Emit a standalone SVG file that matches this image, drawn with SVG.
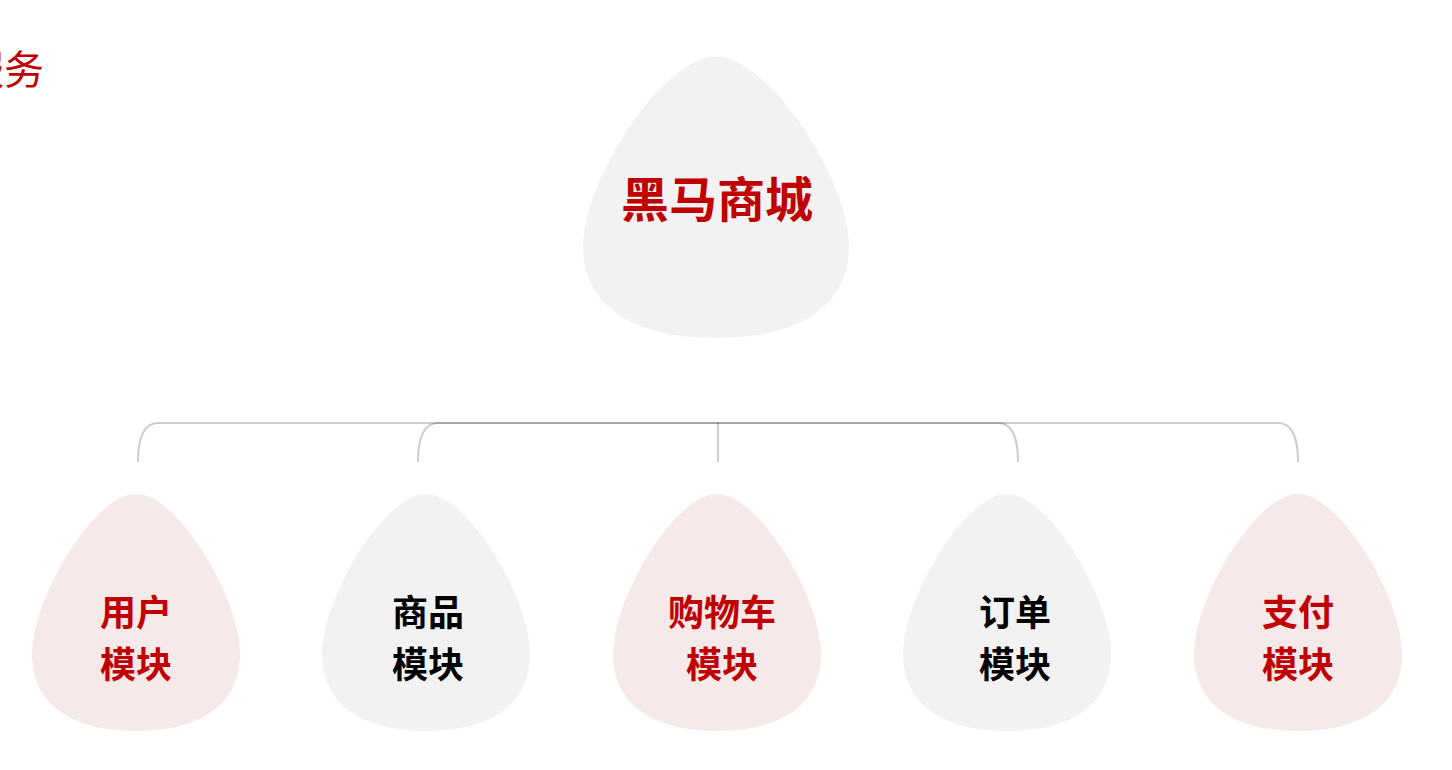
<svg xmlns="http://www.w3.org/2000/svg" width="1452" height="770" viewBox="0 0 1452 770">
<style>
.t{font-family:"Noto Sans CJK SC","Noto Sans",sans-serif;font-weight:700;text-anchor:middle}
.red{fill:#c00000}
.blk{fill:#000}
.pink{fill:#f6e9e9}
.gray{fill:#f2f2f2}
.ln{fill:none;stroke:#000;stroke-opacity:0.2;stroke-width:2}
</style>
<defs>
<path id="egg" d="M0,0 C42,0 104,104 104,160 C104,212 62,237 0,237 C-62,237 -104,212 -104,160 C-104,104 -42,0 0,0 Z"/>
</defs>
<rect width="1452" height="770" fill="#fff"/>
<text x="44" y="84" font-family="Noto Sans CJK SC,sans-serif" font-size="40" fill="#c00000" text-anchor="end">服务</text>
<g id="connectors">
<path class="ln" d="M138,462 C138,440 143,423 158,423 L1278,423 C1293,423 1298,440 1298,462"/>
<path class="ln" d="M418,462 C418,440 423,423 438,423 L998,423 C1013,423 1018,440 1018,462"/>
<path class="ln" d="M718,423 L718,462"/>
</g>
<g id="root">
<use href="#egg" class="gray" transform="translate(716,57) scale(1.279,1.186)"/>
<text class="t red" x="717" y="217" font-size="48">黑马商城</text>
</g>
<g id="user">
<use href="#egg" class="pink" transform="translate(136,494)"/>
<text class="t red" x="136" y="626" font-size="36">用户</text>
<text class="t red" x="136" y="678" font-size="36">模块</text>
</g>
<g id="goods">
<use href="#egg" class="gray" transform="translate(426,494)"/>
<text class="t blk" x="428" y="626" font-size="36">商品</text>
<text class="t blk" x="428" y="678" font-size="36">模块</text>
</g>
<g id="cart">
<use href="#egg" class="pink" transform="translate(717,494)"/>
<text class="t red" x="722" y="626" font-size="36">购物车</text>
<text class="t red" x="722" y="678" font-size="36">模块</text>
</g>
<g id="order">
<use href="#egg" class="gray" transform="translate(1007,494)"/>
<text class="t blk" x="1015" y="626" font-size="36">订单</text>
<text class="t blk" x="1015" y="678" font-size="36">模块</text>
</g>
<g id="pay">
<use href="#egg" class="pink" transform="translate(1298,494)"/>
<text class="t red" x="1298" y="626" font-size="36">支付</text>
<text class="t red" x="1298" y="678" font-size="36">模块</text>
</g>
</svg>
